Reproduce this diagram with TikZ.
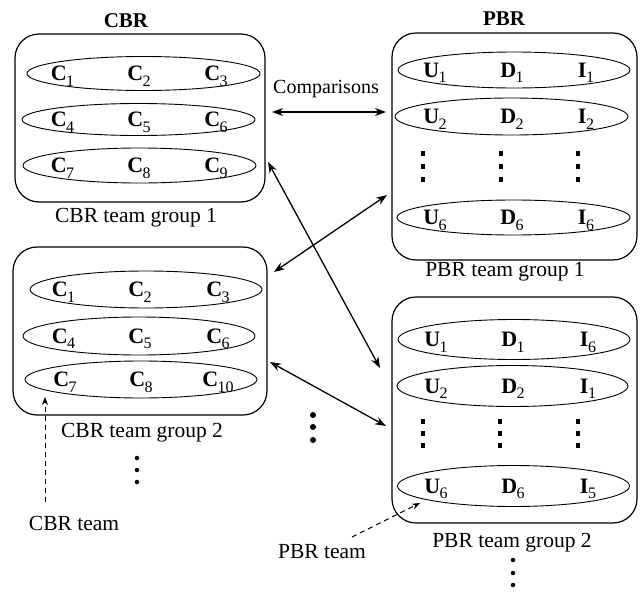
\documentclass[tikz,border=0pt]{standalone}
\usepackage{fontspec}
\setmainfont{Liberation Serif}
\usetikzlibrary{shapes.geometric,arrows.meta}

% member label: bold letter with a lowered, lighter index
\newcommand{\memb}[2]{\textbf{#1}\kern-0.5pt\raisebox{-5.5pt}{\fontsize{16}{16}\selectfont #2}}

\begin{document}
\begin{tikzpicture}[x=1pt,y=-1pt,
  groupbox/.style={draw, rounded corners=24pt, line width=1.2pt, inner sep=0pt, outer sep=0pt},
  team/.style={draw, ellipse, line width=0.9pt, inner sep=0pt},
  memberlabel/.style={anchor=base, inner sep=0pt, font=\fontsize{22}{22}\selectfont},
  caption/.style={anchor=base, inner sep=0pt, font=\fontsize{21.5}{24}\selectfont},
  heading/.style={anchor=base, inner sep=0pt, font=\fontsize{21}{24}\selectfont\bfseries},
  link/.style={{Stealth[length=11pt,width=8pt]}-{Stealth[length=11pt,width=8pt]}, line width=1.3pt},
  pointer/.style={-{Stealth[length=8pt,width=6pt]}, dash pattern=on 5pt off 4pt, line width=1pt},
  rdot/.style={circle, fill, inner sep=0pt, minimum size=5pt},
  sqdot/.style={rectangle, fill, inner sep=0pt, minimum width=4.5pt, minimum height=5pt}]

\useasboundingbox (0,0) rectangle (641,592);

% ---------- headings ----------
\node[heading] (hcbr) at (126,27) {CBR};
\node[heading] (hpbr) at (504,25) {PBR};

% ---------- CBR team group 1 ----------
\node[groupbox, minimum width=250pt, minimum height=168pt] (cbr1) at (140,118) {};
\node[team, minimum width=233pt, minimum height=34pt] (c1a) at (143.5,73.5) {};
\node[team, minimum width=233pt, minimum height=32pt] (c1b) at (138.5,119.5) {};
\node[team, minimum width=233pt, minimum height=35pt] (c1c) at (139.5,165.5) {};
\node[memberlabel] (c1a1) at (62.5,80.5)  {\memb{C}{1}};
\node[memberlabel] (c1a2) at (139,80.5)   {\memb{C}{2}};
\node[memberlabel] (c1a3) at (216,80.5)   {\memb{C}{3}};
\node[memberlabel] (c1b1) at (62.5,126.5) {\memb{C}{4}};
\node[memberlabel] (c1b2) at (139,126.5)  {\memb{C}{5}};
\node[memberlabel] (c1b3) at (216,126.5)  {\memb{C}{6}};
\node[memberlabel] (c1c1) at (62.5,172.5) {\memb{C}{7}};
\node[memberlabel] (c1c2) at (139,172.5)  {\memb{C}{8}};
\node[memberlabel] (c1c3) at (216,172.5)  {\memb{C}{9}};
\node[caption] (cap-c1) at (136,222) {CBR team group 1};

% ---------- CBR team group 2 ----------
\node[groupbox, minimum width=254pt, minimum height=168pt] (cbr2) at (140,331) {};
\node[team, minimum width=232pt, minimum height=37pt] (c2a) at (146,289.5) {};
\node[team, minimum width=232pt, minimum height=38pt] (c2b) at (139,336) {};
\node[team, minimum width=232pt, minimum height=37pt] (c2c) at (141,379.5) {};
\node[memberlabel] (c2a1) at (63.5,296.5) {\memb{C}{1}};
\node[memberlabel] (c2a2) at (140,296.5)  {\memb{C}{2}};
\node[memberlabel] (c2a3) at (218,296.5)  {\memb{C}{3}};
\node[memberlabel] (c2b1) at (63.5,343)   {\memb{C}{4}};
\node[memberlabel] (c2b2) at (140,343)    {\memb{C}{5}};
\node[memberlabel] (c2b3) at (218,343)    {\memb{C}{6}};
\node[memberlabel] (c2c1) at (65,386.5)   {\memb{C}{7}};
\node[memberlabel] (c2c2) at (141,386.5)  {\memb{C}{8}};
\node[memberlabel] (c2c3) at (218,386.5)  {\memb{C}{10}};
\node[caption] (cap-c2) at (142,437) {CBR team group 2};
\node[rdot, minimum size=4.5pt] (cd1) at (137,458) {};
\node[rdot, minimum size=4.5pt] (cd2) at (137,470) {};
\node[rdot, minimum size=4.5pt] (cd3) at (137,482) {};

% ---------- PBR team group 1 ----------
\node[groupbox, minimum width=245pt, minimum height=227pt] (pbr1) at (514.5,146.5) {};
\node[team, minimum width=232pt, minimum height=36pt] (p1a) at (514,70) {};
\node[team, minimum width=233pt, minimum height=37pt] (p1b) at (511.5,116.5) {};
\node[team, minimum width=233pt, minimum height=35pt] (p1c) at (513.5,217.5) {};
\node[memberlabel] (p1a1) at (435,77)    {\memb{U}{1}};
\node[memberlabel] (p1a2) at (512,77)    {\memb{D}{1}};
\node[memberlabel] (p1a3) at (586,77)    {\memb{I}{1}};
\node[memberlabel] (p1b1) at (435,123.5) {\memb{U}{2}};
\node[memberlabel] (p1b2) at (512,123.5) {\memb{D}{2}};
\node[memberlabel] (p1b3) at (586,123.5) {\memb{I}{2}};
\node[memberlabel] (p1c1) at (435,224.5) {\memb{U}{6}};
\node[memberlabel] (p1c2) at (512,224.5) {\memb{D}{6}};
\node[memberlabel] (p1c3) at (586,224.5) {\memb{I}{6}};
\foreach \x [count=\i] in {423,501,578} {
  \node[sqdot] (p1d\i a) at (\x,153) {};
  \node[sqdot] (p1d\i b) at (\x,166) {};
  \node[sqdot] (p1d\i c) at (\x,179) {};
}
\node[caption] (cap-p1) at (505,276) {PBR team group 1};

% ---------- PBR team group 2 ----------
\node[groupbox, minimum width=245pt, minimum height=226pt] (pbr2) at (514.5,410) {};
\node[team, minimum width=232pt, minimum height=40pt] (p2a) at (514,339.5) {};
\node[team, minimum width=231pt, minimum height=41pt] (p2b) at (512.5,386) {};
\node[team, minimum width=232pt, minimum height=41pt] (p2c) at (513.5,486) {};
\node[memberlabel] (p2a1) at (436,346.5) {\memb{U}{1}};
\node[memberlabel] (p2a2) at (513,346.5) {\memb{D}{1}};
\node[memberlabel] (p2a3) at (588,346.5) {\memb{I}{6}};
\node[memberlabel] (p2b1) at (436,393)   {\memb{U}{2}};
\node[memberlabel] (p2b2) at (513,393)   {\memb{D}{2}};
\node[memberlabel] (p2b3) at (588,393)   {\memb{I}{1}};
\node[memberlabel] (p2c1) at (436,493)   {\memb{U}{6}};
\node[memberlabel] (p2c2) at (513,493)   {\memb{D}{6}};
\node[memberlabel] (p2c3) at (588,493)   {\memb{I}{5}};
\foreach \x [count=\i] in {423,500,578} {
  \node[sqdot] (p2d\i a) at (\x,421) {};
  \node[sqdot] (p2d\i b) at (\x,433) {};
  \node[sqdot] (p2d\i c) at (\x,445) {};
}
\node[caption] (cap-p2) at (512,547) {PBR team group 2};
\node[rdot, minimum size=4.5pt] (pd1) at (513,560) {};
\node[rdot, minimum size=4.5pt] (pd2) at (513,573) {};
\node[rdot, minimum size=4.5pt] (pd3) at (513,585) {};

% ---------- further groups ----------
\node[rdot, minimum size=6pt] (md1) at (313,415) {};
\node[rdot, minimum size=6pt] (md2) at (313,427) {};
\node[rdot, minimum size=6pt] (md3) at (313,440) {};

% ---------- comparison links ----------
\coordinate (l1a) at (272,112);  \coordinate (l1b) at (386,112);
\coordinate (l2a) at (268,162);  \coordinate (l2b) at (380,368);
\coordinate (l3a) at (274,272);  \coordinate (l3b) at (387,195);
\coordinate (l4a) at (270,362);  \coordinate (l4b) at (386,426);
\draw[link] (l1a) -- (l1b);
\draw[link] (l2a) -- (l2b);
\draw[link] (l3a) -- (l3b);
\draw[link] (l4a) -- (l4b);
\node[caption, font=\fontsize{20}{24}\selectfont] (cmp) at (326,93) {Comparisons};

% ---------- team pointers ----------
\node[caption] (cbrteam) at (74,530) {CBR team};
\node[caption] (pbrteam) at (322,558) {PBR team};
\coordinate (cbrtail) at (45,502);
\coordinate (cbrtip) at (45,397);
\coordinate (pbrtail) at (352,537);
\coordinate (pbrtip) at (420,503);
\draw[pointer] (cbrtail) -- (cbrtip);
\draw[pointer] (pbrtail) -- (pbrtip);

\end{tikzpicture}
\end{document}
